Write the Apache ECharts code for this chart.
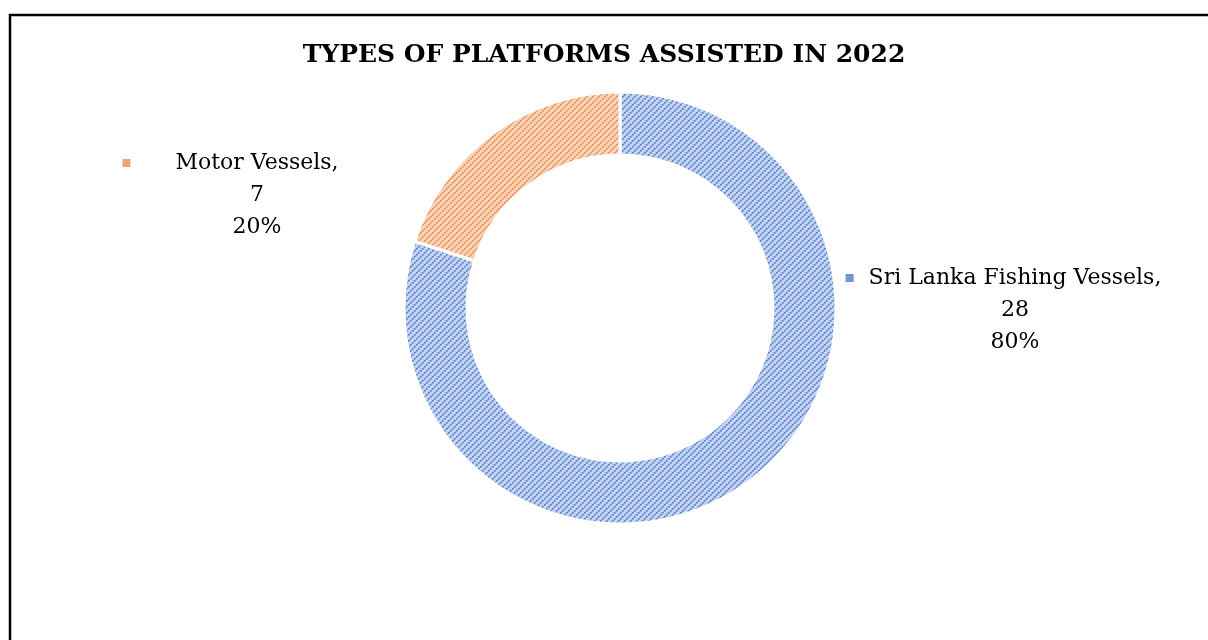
<!DOCTYPE html>
<html>
<head>
<meta charset="utf-8">
<title>Types of Platforms Assisted in 2022</title>
<script src="https://cdn.jsdelivr.net/npm/echarts@6/dist/echarts.min.js"></script>
<style>
  html, body { margin: 0; padding: 0; background: #ffffff; }
  #chart { width: 1208px; height: 640px; }
</style>
</head>
<body>
<div id="chart"></div>
<script>
// Platform categories and counts
const categories = ['Sri Lanka Fishing Vessels', 'Motor Vessels'];
const counts = [28, 7];
const titleText = 'TYPES OF PLATFORMS ASSISTED IN 2022';

// Base / dot colours of the hatched fills
const baseColors = ['#c3d3f2', '#f8d3b6'];
const dotColors = ['#5077c8', '#e9894e'];
const legendColors = ['#7394d6', '#f2a470'];

// Label anchor points (in pixels) and marker gaps for each slice
const labelAnchors = [[1015, 310], [257, 195]];
const markerGaps = [15, 45];

function hatch(base, dot) {
  const c = document.createElement('canvas');
  c.width = 6; c.height = 6;
  const g = c.getContext('2d');
  g.fillStyle = base;
  g.fillRect(0, 0, 6, 6);
  g.fillStyle = dot;
  // dotted lines running up to the right
  [[0, 4], [2, 2], [4, 0]].forEach(p => g.fillRect(p[0], p[1], 1.6, 1.6));
  g.globalAlpha = 0.35;
  [[1, 3], [3, 1], [5, 5]].forEach(p => g.fillRect(p[0], p[1], 1, 1));
  return c;
}

const total = counts.reduce((a, b) => a + b, 0);
const seriesData = categories.map((name, i) => {
  const pad = 8 + markerGaps[i];
  return {
    name: name,
    value: counts[i],
    itemStyle: { color: { image: hatch(baseColors[i], dotColors[i]), repeat: 'repeat' } },
    label: {
      formatter: '{m|}{g|}{t|' + name + ',}{r|}\n{t|' + counts[i] + '}\n{t|' +
        Math.round(counts[i] / total * 100) + '%}',
      rich: {
        m: { backgroundColor: legendColors[i], width: 8, height: 8, verticalAlign: 'middle' },
        g: { width: markerGaps[i] },
        r: { width: pad },
        t: { fontFamily: 'DejaVu Serif', fontSize: 22, color: '#000', lineHeight: 32, align: 'center' }
      }
    }
  };
});

const chart = echarts.init(document.getElementById('chart'), null, { renderer: 'canvas' });
chart.setOption({
  backgroundColor: '#ffffff',
  animation: false,
  title: {
    text: titleText,
    left: 'center',
    top: 38,
    textStyle: { fontFamily: 'DejaVu Serif', fontWeight: 'bold', fontSize: 25, color: '#000' }
  },
  graphic: [{
    type: 'rect',
    shape: { x: 10, y: 15, width: 1300, height: 700 },
    style: { fill: 'none', stroke: '#000', lineWidth: 2.5 },
    silent: true
  }],
  series: [{
    type: 'pie',
    center: [620, 308],
    radius: [153, 216],
    startAngle: 90,
    clockwise: true,
    itemStyle: { borderColor: '#ffffff', borderWidth: 3 },
    label: { show: true, position: 'outside', align: 'center' },
    labelLine: { show: false },
    labelLayout: function (p) {
      const a = labelAnchors[p.dataIndex];
      return { x: a[0], y: a[1], align: 'center', verticalAlign: 'middle', hideOverlap: false };
    },
    emphasis: { disabled: true },
    data: seriesData
  }]
});
</script>
</body>
</html>
